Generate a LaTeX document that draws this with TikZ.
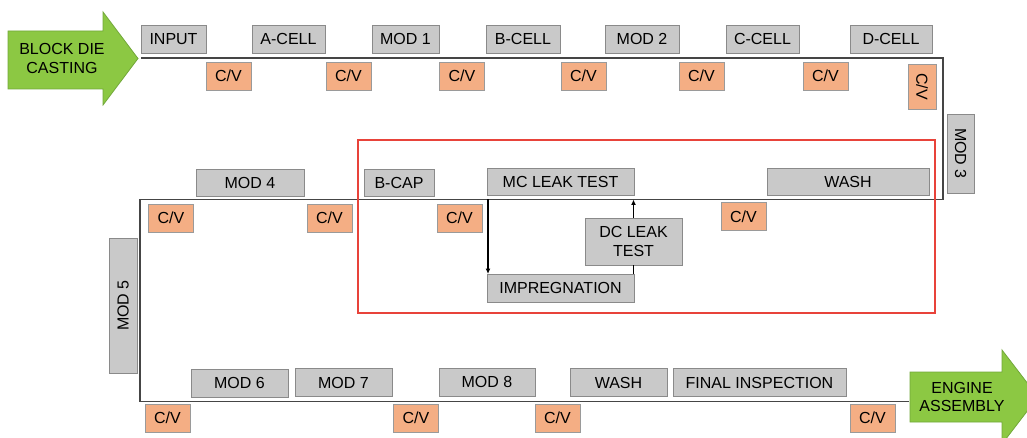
\documentclass[tikz,border=0pt]{standalone}
\usepackage{fontspec}
\setmainfont{Liberation Sans}
\usetikzlibrary{arrows.meta}
\definecolor{boxgray}{HTML}{C9C9C9}
\definecolor{boxedge}{HTML}{8A8A8A}
\definecolor{cvfill}{HTML}{F4AE84}
\definecolor{cvedge}{HTML}{9A9A9A}
\definecolor{grn}{HTML}{8CC843}
\definecolor{grnedge}{HTML}{72A83A}
\definecolor{lineclr}{HTML}{454545}
\definecolor{redbox}{HTML}{E8433A}
\begin{document}
\begin{tikzpicture}[x=1pt,y=-1pt,
  every node/.style={font=\fontsize{16}{18.5}\selectfont, inner sep=0pt, outer sep=0pt},
  gbox/.style={draw=boxedge, fill=boxgray, line width=0.9pt, minimum height=28pt},
  cvbox/.style={draw=cvedge, fill=cvfill, line width=0.9pt, minimum width=45pt, minimum height=28pt},
  flow/.style={draw=lineclr, line width=1.8pt},
  thinarrow/.style={draw=black, line width=1.3pt},
  bigarrow/.style={draw=grnedge, fill=grn, line width=0.8pt}
]
\useasboundingbox (0,0) rectangle (1027,438);

% green block arrows
\path[bigarrow] (8,31) -- (103,31) -- (103,12) -- (138,58.5) -- (103,105) -- (103,89) -- (8,89) -- cycle;
\node[align=center] (bdc) at (62,58.5) {BLOCK DIE\\CASTING};
\path[bigarrow] (910,372) -- (1002,372) -- (1002,350) -- (1038,397) -- (1002,444) -- (1002,422) -- (910,422) -- cycle;
\node[align=center] (ea) at (962,397) {ENGINE\\ASSEMBLY};

% main flow line
\coordinate (p0) at (141,58);
\coordinate (p1) at (943,58);
\coordinate (p2) at (943,199.5);
\coordinate (p3) at (140,199.5);
\coordinate (p4) at (140,401.5);
\coordinate (p5) at (909,401.5);
\draw[flow] (p0) -- (p1) -- (p2) -- (p3) -- (p4) -- (p5);

% top row
\node[gbox, minimum width=65pt] (input) at (173.5,39) {INPUT};
\node[gbox, minimum width=73pt] (acell) at (288.5,39) {A-CELL};
\node[gbox, minimum width=67pt] (mod1) at (405.5,39) {MOD 1};
\node[gbox, minimum width=74pt] (bcell) at (523,39) {B-CELL};
\node[gbox, minimum width=74pt] (mod2) at (642,39) {MOD 2};
\node[gbox, minimum width=73pt] (ccell) at (762.5,39) {C-CELL};
\node[gbox, minimum width=82pt] (dcell) at (891,39) {D-CELL};

\node[cvbox] (cv1) at (228.5,76) {C/V};
\node[cvbox] (cv2) at (348.5,76) {C/V};
\node[cvbox] (cv3) at (462,76) {C/V};
\node[cvbox] (cv4) at (583.5,76) {C/V};
\node[cvbox] (cv5) at (701.5,76) {C/V};
\node[cvbox] (cv6) at (825.5,76) {C/V};
\node[cvbox, rotate=-90] (cv7) at (922,86.5) {C/V};

\node[gbox, rotate=-90, minimum width=79pt, minimum height=27pt] (mod3) at (960.5,153.5) {MOD 3};

% middle row
\node[gbox, minimum width=108pt, minimum height=27pt] (mod4) at (250,182.5) {MOD 4};
\node[gbox, minimum width=70pt, minimum height=27pt] (bcap) at (399,182.5) {B-CAP};
\node[gbox, minimum width=147pt, minimum height=27pt] (mcl) at (560.5,181.5) {MC LEAK TEST};
\node[gbox, minimum width=162pt, minimum height=27pt] (wash1) at (848,181.5) {WASH};

\node[cvbox] (cv8) at (171,218) {C/V};
\node[cvbox] (cv9) at (329.5,218) {C/V};
\node[cvbox] (cv10) at (459.5,218) {C/V};
\node[cvbox] (cv11) at (743.5,216.5) {C/V};

\node[gbox, minimum width=147pt] (imp) at (560.5,288) {IMPREGNATION};
\node[gbox, minimum width=97pt, minimum height=47pt, align=center] (dcl) at (633.5,241.5) {DC LEAK\\TEST};

\coordinate (split) at (488,199.5);
\draw[thinarrow, -{Latex[length=5.5pt,width=5pt]}] (split) -- (split |- imp.north);
\draw[thinarrow] (imp.north -| dcl.south) -- (dcl.south);
\draw[thinarrow, -{Latex[length=5.5pt,width=5pt]}] (dcl.north) -- (dcl.north |- p3);

\node[gbox, rotate=90, minimum width=135pt, minimum height=28pt] (mod5) at (123,305.5) {MOD 5};

% bottom row
\node[gbox, minimum width=97pt] (mod6) at (239.5,383) {MOD 6};
\node[gbox, minimum width=97pt] (mod7) at (343.5,382.5) {MOD 7};
\node[gbox, minimum width=96pt] (mod8) at (487,382) {MOD 8};
\node[gbox, minimum width=97pt] (wash2) at (618.5,382.5) {WASH};
\node[gbox, minimum width=173pt] (final) at (759.5,382.5) {FINAL INSPECTION};

\node[cvbox] (cv12) at (167.5,418) {C/V};
\node[cvbox] (cv13) at (416,418) {C/V};
\node[cvbox] (cv14) at (557.5,418) {C/V};
\node[cvbox] (cv15) at (872.5,418) {C/V};

% red highlight frame
\node[draw=redbox, line width=1.6pt, minimum width=577pt, minimum height=173pt] (frame) at (646.5,226.5) {};
\end{tikzpicture}
\end{document}
